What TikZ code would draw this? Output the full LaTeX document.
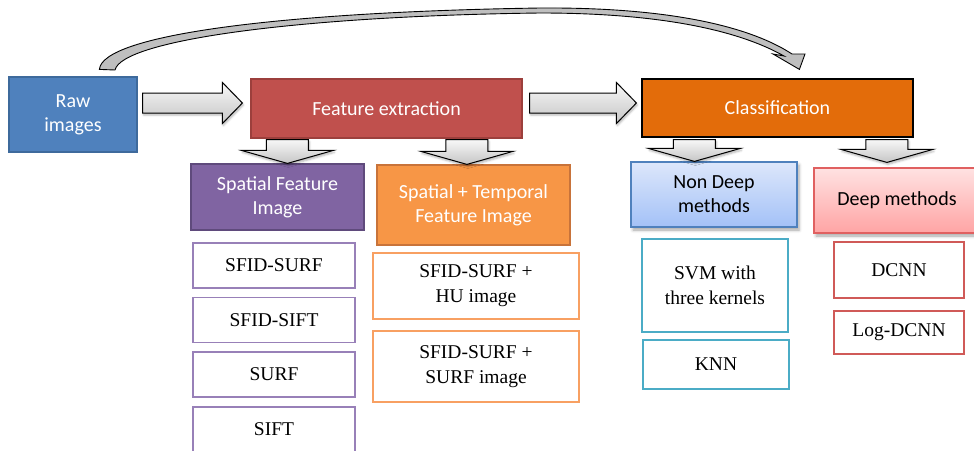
\documentclass[tikz,border=0pt]{standalone}
\usepackage{fontspec}
\setmainfont{Liberation Serif}
\newfontfamily\calibri{Carlito}
\usetikzlibrary{positioning}
\usetikzlibrary{calc}
\usetikzlibrary{shadows,shadows.blur}

\definecolor{rawblue}{HTML}{4F81BD}
\definecolor{rawline}{HTML}{3E6A9C}
\definecolor{featred}{HTML}{C0504D}
\definecolor{featline}{HTML}{9C3F3C}
\definecolor{clsorange}{HTML}{E36C0A}
\definecolor{sfpurple}{HTML}{8064A2}
\definecolor{sfline}{HTML}{5F4A7C}
\definecolor{stforange}{HTML}{F79646}
\definecolor{stfline}{HTML}{C8733A}
\definecolor{ndtop}{HTML}{DDE7FB}
\definecolor{ndbot}{HTML}{A3C1F7}
\definecolor{dtop}{HTML}{FFE2E2}
\definecolor{dbot}{HTML}{FFA4A4}
\definecolor{dline}{HTML}{E06060}
\definecolor{sfitem}{HTML}{9880B8}
\definecolor{stfitem}{HTML}{F8A062}
\definecolor{nditem}{HTML}{4BACC6}
\definecolor{ditem}{HTML}{D05A58}

\tikzstyle{stagebox}=[rectangle,draw,line width=1.2pt,text=white,font=\calibri\fontsize{20}{24}\selectfont,align=center,inner sep=0pt]
\tikzstyle{methodbox}=[rectangle,draw,line width=1.2pt,text=black,font=\calibri\fontsize{20}{24}\selectfont,align=center,inner sep=0pt,blur shadow={shadow xshift=2pt,shadow yshift=-3pt,shadow blur radius=3pt,shadow opacity=35}]
\tikzstyle{itembox}=[rectangle,draw,line width=1.3pt,fill=white,font=\fontsize{19.5}{25}\selectfont,align=center,inner sep=0pt]
\tikzstyle{blockarrow}=[draw=black,line width=1pt,top color=gray!6,bottom color=gray!45,blur shadow={shadow xshift=1pt,shadow yshift=-2pt,shadow blur radius=2pt,shadow opacity=30}]
\tikzstyle{curvearrow}=[draw=black,line width=0.9pt,fill=gray!50]

% block arrows: #1 tail, #2 tip
\newcommand{\harrow}[2]{%
  \path[blockarrow] let \p1=#1, \p2=#2 in
    (\x1,\y2+10pt) -- (\x2-20pt,\y2+10pt) -- (\x2-20pt,\y2+20.5pt) -- (\p2)
    -- (\x2-20pt,\y2-20.5pt) -- (\x2-20pt,\y2-10pt) -- (\x1,\y2-10pt) -- cycle;}
\newcommand{\varrow}[2]{%
  \path[blockarrow] let \p1=#1, \p2=#2 in
    (\x1-21pt,\y1) -- (\x1-21pt,\y2+13pt) -- (\x1-46pt,\y2+13pt) -- (\x1,\y2)
    -- (\x1+46pt,\y2+13pt) -- (\x1+21pt,\y2+13pt) -- (\x1+21pt,\y1) -- cycle;}

\begin{document}
\begin{tikzpicture}[x=1pt,y=-1pt]
   \useasboundingbox (0,0) rectangle (974,450);
   \clip (0,0) rectangle (974,450);

   % stages
   \node[stagebox,fill=rawblue,draw=rawline,minimum width=128pt,minimum height=75pt] (raw) at (73,114.5) {Raw\\images};
   \node[stagebox,fill=featred,draw=featline,minimum width=271pt,minimum height=59pt] (feat) at (386.5,108.5) {Feature extraction};
   \node[stagebox,fill=clsorange,draw=black,minimum width=271pt,minimum height=58pt] (cls) at (777.5,108) {Classification};

   % groups
   \node[stagebox,fill=sfpurple,draw=sfline,minimum width=173pt,minimum height=66pt] (sfi) at (277.5,197) {Spatial Feature\\Image};
   \node[stagebox,fill=stforange,draw=stfline,minimum width=193pt,minimum height=80pt] (stfi) at (473.5,205) {Spatial + Temporal\\Feature Image};
   \node[methodbox,top color=ndtop,bottom color=ndbot,draw=rawblue,minimum width=166pt,minimum height=65pt] (nondeep) at (714,194.5) {Non Deep\\methods};
   \node[methodbox,top color=dtop,bottom color=dbot,draw=dline,minimum width=166pt,minimum height=65pt] (deep) at (897,200.5) {Deep methods};

   % items
   \foreach \pos/\name/\label in {{(274,265.5)/sfsurf/SFID-SURF}, {(274,320)/sfsift/SFID-SIFT}, {(274,374.5)/surf/SURF}, {(274,429.5)/sift/SIFT}}
      \node[itembox,draw=sfitem,minimum width=162pt,minimum height=45pt] (\name) at \pos {\label};
   \foreach \pos/\name/\h/\label in {{(476,286)/huimg/66/{SFID-SURF +\\HU image}}, {(476,366.5)/surfimg/71/{SFID-SURF +\\SURF image}}}
      \node[itembox,draw=stfitem,minimum width=206pt,minimum height=\h pt] (\name) at \pos {\label};
   \foreach \pos/\name/\h/\label in {{(715,285.5)/svm/93/{SVM with\\three kernels}}, {(716,364.5)/knn/49/KNN}}
      \node[itembox,draw=nditem,minimum width=146pt,minimum height=\h pt] (\name) at \pos {\label};
   \foreach \pos/\name/\h/\label in {{(899,270)/dcnn/56/DCNN}, {(899,332.5)/logdcnn/43/Log-DCNN}}
      \node[itembox,draw=ditem,minimum width=130pt,minimum height=\h pt] (\name) at \pos {\label};

   % block arrows
   \harrow{($(raw.east)+(5,-11.5)$)}{($(feat.west)+(-8,-5.5)$)}
   \harrow{($(feat.east)+(7,-5.5)$)}{($(cls.west)+(-5,-5)$)}
   \varrow{($(feat.south west)+(37,1)$)}{(sfi.north)}
   \varrow{($(feat.south west)+(216.5,1)$)}{(stfi.north)}
   \varrow{($(cls.south west)+(53,2)$)}{(nondeep.north)}
   \varrow{($(cls.south west)+(245.5,2)$)}{($(deep.north)+(0,-5)$)}

   % skip arrow
   \coordinate (ctail) at ($(raw.north west)+(91,-7)$);
   \coordinate (ctip) at ($(cls.north west)+(158,-9)$);
   \path[curvearrow] (ctail) .. controls (102,35) and (280,12) .. (540,8) .. controls (690,7) and (760,33) .. (792,54)
      -- (805,54) -- (ctip) -- (773,54) -- (784,56) .. controls (752,38) and (685,13) .. (540,13)
      .. controls (300,16) and (122,40) .. (115,70) -- cycle;

\end{tikzpicture}
\end{document}
